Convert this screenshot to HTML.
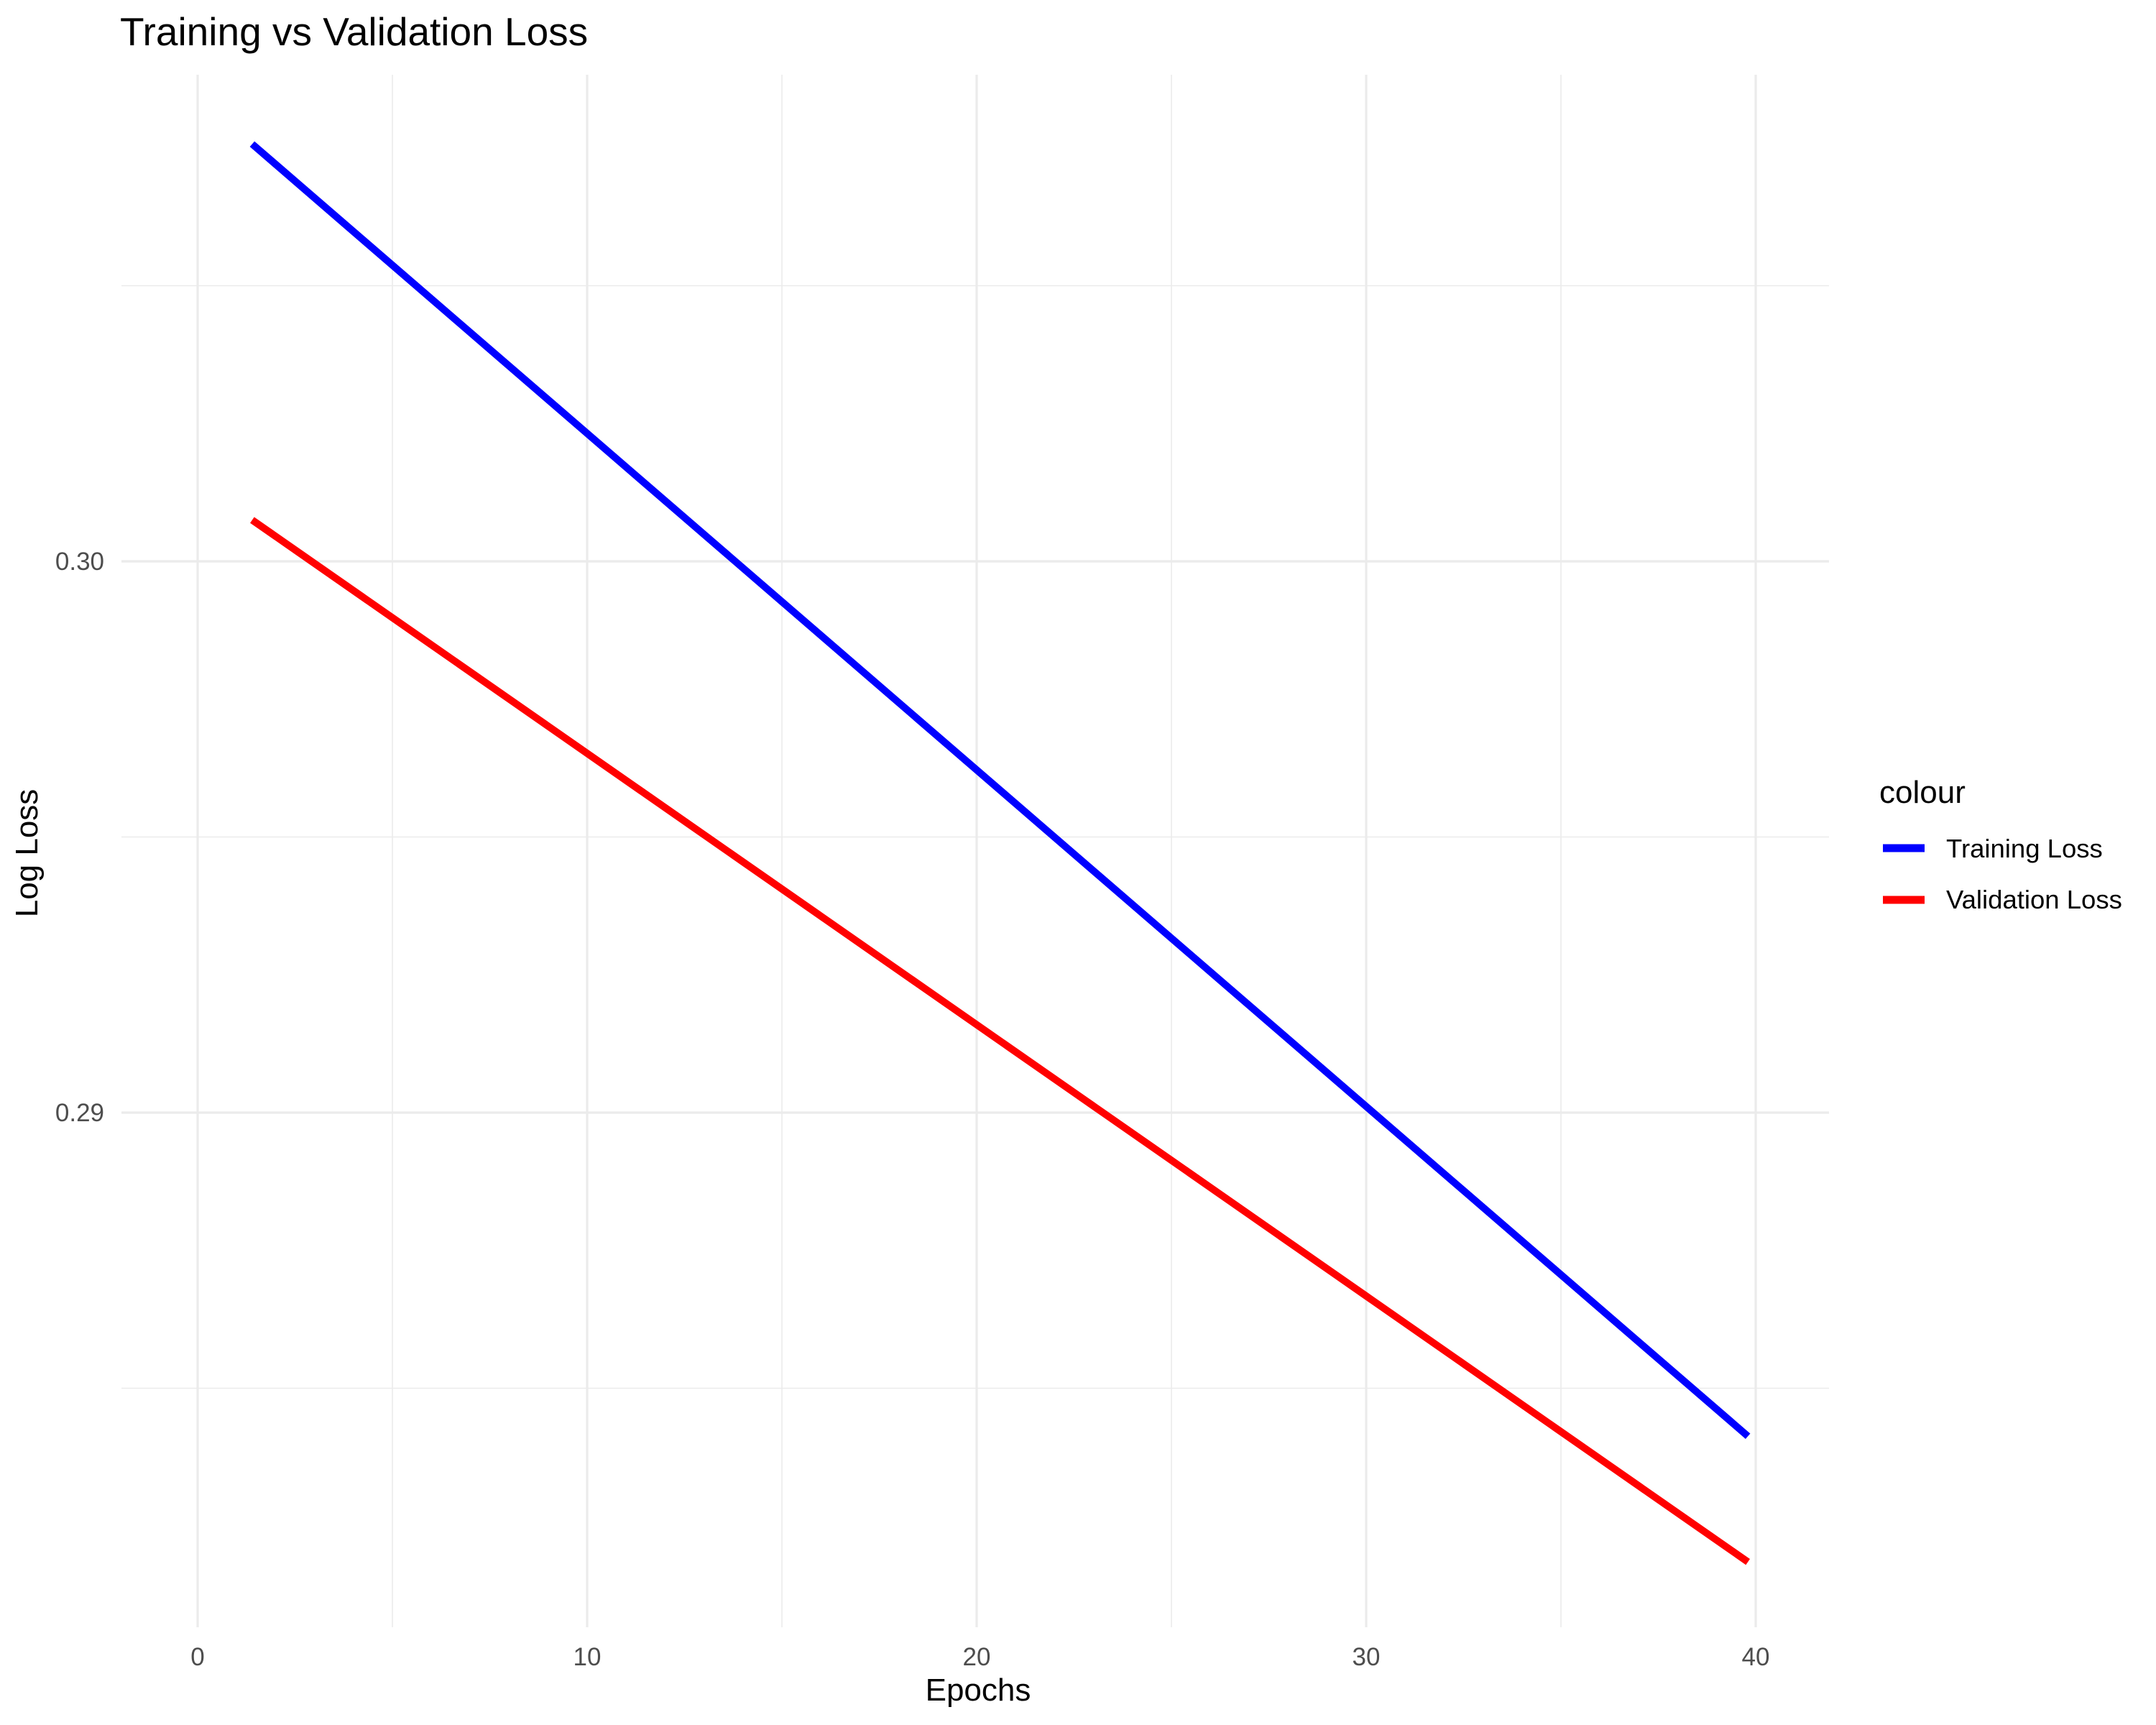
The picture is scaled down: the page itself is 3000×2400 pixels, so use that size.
<!DOCTYPE html>
<html><head><meta charset="utf-8"><style>
html,body{margin:0;padding:0;background:#fff;}
svg{display:block;font-family:"Liberation Sans",sans-serif;}
</style></head><body>
<svg id="chart" width="3000" height="2400" viewBox="0 0 3000 2400" xmlns="http://www.w3.org/2000/svg">
<rect width="3000" height="2400" fill="#fff"/>
<g id="grid"></g>
<g id="series"></g>
<g id="axes"></g>
<text x="167" y="63" font-size="55" fill="#000">Training vs Validation Loss</text>
<text x="1361" y="2366" font-size="44" fill="#000" text-anchor="middle">Epochs</text>
<text transform="translate(52,1187) rotate(-90)" font-size="44" fill="#000" text-anchor="middle">Log Loss</text>
<g>
<text x="2615" y="1117" font-size="44" fill="#000">colour</text>
<line x1="2620" y1="1180" x2="2678" y2="1180" stroke="#0000ff" stroke-width="11"/>
<text x="2708" y="1193" font-size="36.5" fill="#000">Training Loss</text>
<line x1="2620" y1="1252" x2="2678" y2="1252" stroke="#ff0000" stroke-width="11"/>
<text x="2708" y="1264" font-size="36.5" fill="#000">Validation Loss</text>
</g>
</svg>
<script>
const epochs = [1.4, 39.8];
const trainingLoss = [0.30757, 0.28413];
const validationLoss = [0.30075, 0.28185];
const xTicks = [0, 10, 20, 30, 40];
const xMinor = [5, 15, 25, 35];
const yTicks = [0.29, 0.30];
const yTickLabels = ["0.29", "0.30"];
const yMinor = [0.285, 0.295, 0.305];

const NS = "http://www.w3.org/2000/svg";
const P = {left:169, right:2545, top:104, bottom:2264};
function xs(v){ return 275 + (v - 0) * (2443 - 275) / 40; }
function ys(v){ return 781 + (0.30 - v) * 76700; }
function mk(tag, attrs, parent){
  const e = document.createElementNS(NS, tag);
  for (const k in attrs) e.setAttribute(k, attrs[k]);
  parent.appendChild(e);
  return e;
}
const grid = document.getElementById('grid');
const axes = document.getElementById('axes');
const series = document.getElementById('series');
yMinor.forEach(v => {
  const l = mk('line', {x1:P.left, x2:P.right, y1:ys(v), y2:ys(v), stroke:'#ebebeb', 'stroke-width':1.6}, grid);
  
  
});
xMinor.forEach(v => {
  const l = mk('line', {x1:xs(v), x2:xs(v), y1:P.top, y2:P.bottom, stroke:'#ebebeb', 'stroke-width':1.6}, grid);
  
  
});
yTicks.forEach((v, i) => {
  const l = mk('line', {x1:P.left, x2:P.right, y1:ys(v), y2:ys(v), stroke:'#ebebeb', 'stroke-width':3.2}, grid);
  
  
  const t = mk('text', {x:145, y:ys(v)+12, 'font-size':35, fill:'#4d4d4d', 'text-anchor':'end'}, axes);
  t.textContent = yTickLabels[i];
  
  
});
xTicks.forEach(v => {
  const l = mk('line', {x1:xs(v), x2:xs(v), y1:P.top, y2:P.bottom, stroke:'#ebebeb', 'stroke-width':3.2}, grid);
  
  
  const t = mk('text', {x:xs(v), y:2317, 'font-size':35, fill:'#4d4d4d', 'text-anchor':'middle'}, axes);
  t.textContent = String(v);
  
  
});
function drawLine(vals, color, name){
  const pts = epochs.map((e, i) => xs(e) + ',' + ys(vals[i])).join(' ');
  const pl = mk('polyline', {points:pts, fill:'none', stroke:color, 'stroke-width':10, 'stroke-linejoin':'round'}, series);
  
  
}
drawLine(trainingLoss, '#0000ff', 'training-loss-line');
drawLine(validationLoss, '#ff0000', 'validation-loss-line');
</script>
</body></html>
